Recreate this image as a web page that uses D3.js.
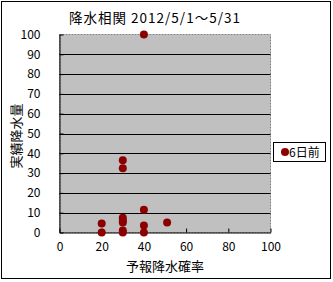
<!DOCTYPE html>
<html><head><meta charset="utf-8">
<script src="https://cdn.jsdelivr.net/npm/d3@7"></script>
<style>body{margin:0;background:#fff}svg{display:block}text{font-family:"Noto Sans CJK JP","Liberation Sans",sans-serif;fill:#000}</style>
</head><body><svg id="c" width="333" height="282"></svg>
<script>
const title = "降水相関 2012/5/1～5/31";
const xTitle = "予報降水確率";
const yTitle = "実績降水量";
const seriesName = "6日前";
const xVals = [40, 20, 20, 30, 30, 30, 30, 30, 30, 30, 40, 40, 40, 51];
const yVals = [100, 4.5, 0, 36.5, 32.5, 7.5, 6, 5, 1, 0, 11.5, 3.5, 0, 5];
const xTicks = [0, 20, 40, 60, 80, 100];
const yTicks = [0, 10, 20, 30, 40, 50, 60, 70, 80, 90, 100];

const svg = d3.select("#c");
const L = 59.5, R = 270.5, T = 34.5, B = 232.5;
const x = d3.scaleLinear().domain([0, 100]).range([L, R]);
const y = d3.scaleLinear().domain([0, 100]).range([B, T]);

svg.append("rect").attr("x", 1.5).attr("y", 1.5).attr("width", 329).attr("height", 277)
  .attr("fill", "#fff").attr("stroke", "#000");

svg.append("rect").attr("x", L).attr("y", T).attr("width", R - L).attr("height", B - T)
  .attr("fill", "#c0c0c0").attr("stroke", "#808080").attr("stroke-dasharray", "2,1");

svg.append("g").selectAll("line").data(yTicks.filter(d => d > 0 && d < 100)).join("line")
  .attr("x1", L).attr("x2", R).attr("y1", d => Math.round(y(d)) + 0.5).attr("y2", d => Math.round(y(d)) + 0.5)
  .attr("stroke", "#000");

// axes
const yAxis = d3.axisLeft(y).tickValues(yTicks).tickSizeInner(-4).tickSizeOuter(0).tickPadding(19);
const gy = svg.append("g").attr("transform", `translate(${L},0)`).call(yAxis);
gy.select(".domain").attr("stroke", "#000");
gy.selectAll("text").attr("font-size", 12).attr("font-family", "Liberation Sans, sans-serif");

const xAxis = d3.axisBottom(x).tickValues(xTicks).tickSizeInner(-4).tickSizeOuter(0).tickPadding(10);
const gx = svg.append("g").attr("transform", `translate(0,${B})`).call(xAxis);
gx.select(".domain").attr("stroke", "#000");
gx.selectAll("text").attr("font-size", 12).attr("font-family", "Liberation Sans, sans-serif");

// points
svg.append("g").selectAll("circle").data(xVals.map((d, i) => [d, yVals[i]])).join("circle")
  .attr("cx", d => x(d[0])).attr("cy", d => y(d[1])).attr("r", 4)
  .attr("fill", "#8b0000");

// title
svg.append("text").attr("x", 155).attr("y", 23).attr("text-anchor", "middle")
  .attr("font-size", 13.5).attr("letter-spacing", 1).text(title);
svg.append("text").attr("x", 165).attr("y", 271).attr("text-anchor", "middle")
  .attr("font-size", 13).text(xTitle);
svg.append("text").attr("transform", "translate(21,136) rotate(-90)").attr("text-anchor", "middle")
  .attr("font-size", 13).text(yTitle);

// legend
const lg = svg.append("g");
lg.append("rect").attr("x", 273.5).attr("y", 142.5).attr("width", 52).attr("height", 19)
  .attr("fill", "#fff").attr("stroke", "#000");
lg.append("circle").attr("cx", 285).attr("cy", 152).attr("r", 4).attr("fill", "#8b0000");
lg.append("text").attr("x", 289).attr("y", 156.5).attr("font-size", 12).text(seriesName);
</script></body></html>
